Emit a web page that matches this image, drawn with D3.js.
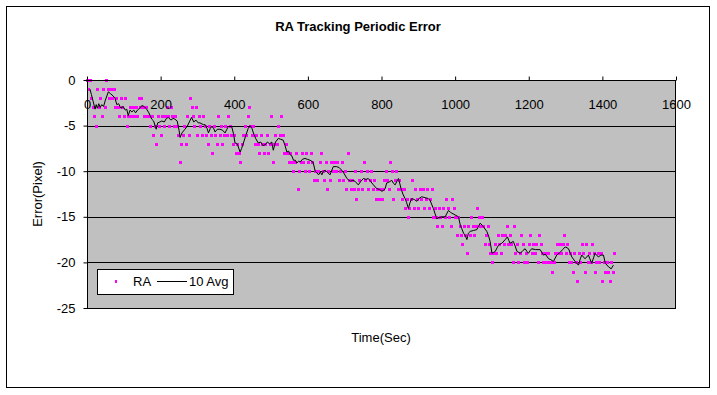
<!DOCTYPE html>
<html>
<head>
<meta charset="utf-8">
<script src="https://cdn.jsdelivr.net/npm/d3@7"></script>
<style>
  body { margin: 0; background: #fff; }
  svg { display: block; font-family: "Liberation Sans", Arial, sans-serif; }
</style>
</head>
<body>
<svg width="717" height="395"></svg>
<script>
// RA error (pixels), one reading every 4 s from t = 0
const raStep = 4;
const raValues = [
  0,-1,0,-2,
  -3,-4,-5,-1,-3,-2,-4,
  -1,-3,0,-1,-2,-1,-2,-1,-3,
  -2,-3,-4,-2,-3,-4,-2,-5,-4,
  -3,-4,-3,-4,-3,-4,-2,-3,-2,
  -3,-4,-3,-4,-4,-5,-4,-6,-5,-7,
  -4,-5,-6,-4,-5,-4,-3,-4,-5,-3,-4,-5,-4,-5,-6,
  -9,-7,-6,-5,-7,-4,-6,-2,
  -3,-4,-5,-3,-6,-4,-5,-6,-4,-5,
  // 324 - 632
  -6,-7,-5,-6,-8,-5,-6,-7,-4,-6,
  -5,-7,-6,-5,-6,-4,-5,-6,-7,-6,
  -8,-7,-8,-9,-7,-6,-5,-6,-4,-3,
  -5,-6,-5,-7,-6,-7,-8,-6,-7,-8,
  -7,-6,-8,-7,-4,-9,-7,-6,-7,-5,
  -6,-4,-6,-8,-7,-8,-9,-8,-9,-10,
  -9,-8,-12,-10,-9,-8,-9,-10,-8,-9,
  -10,-8,-9,-11,-10,-11,-10,-9,
  // 636 - 944
  -8,-10,-11,-9,-12,-10,-11,-9,-10,-9,
  -10,-9,-11,-10,-9,-11,-10,-12,-8,-11,
  -12,-11,-12,-10,-13,-12,-11,-10,-12,-9,
  -11,-10,-12,-11,-10,-12,-11,-13,-12,-13,
  -12,-13,-12,-11,-10,-11,-12,-9,-10,-13,
  -11,-10,-12,-11,-12,-13,-12,-14,-13,-15,
  -14,-13,-11,-14,-12,-13,-14,-12,-13,-12,
  -14,-13,-12,-14,-13,-12,-15,-14,
  // 948 - 1256
  -15,-16,-14,-15,-16,-14,-15,-13,-14,-15,
  -16,-13,-14,-15,-17,-15,-16,-17,-18,-16,
  -17,-19,-16,-17,-15,-16,-17,-16,-14,-15,
  -16,-15,-16,-18,-17,-16,-18,-19,-20,-19,
  -18,-19,-17,-18,-19,-17,-18,-17,-16,-18,
  -17,-18,-20,-16,-19,-18,-20,-19,-17,-18,
  -20,-19,-20,-18,-17,-19,-18,-19,-18,-20,
  -17,-18,-19,-20,-19,-20,-19,-20,
  // 1260 - 1432
  -20,-21,-20,-19,-18,-19,-18,-19,-18,-17,
  -19,-18,-20,-19,-20,-21,-19,-20,-22,-19,
  -20,-18,-19,-21,-18,-20,-19,-20,-18,-19,
  -21,-20,-19,-20,-19,-22,-20,-21,-20,-21,
  -22,-20,-21,-19
];

// 10 point moving average: [time, error]
const avgPoints = [
  [8,-1.0],[12,-1.6],[17,-2.4],[22,-3.2],[25,-2.7],[28,-3.1],[32,-2.6],[36,-3.0],[40,-2.7],[45,-2.9],
  [50,-2.2],[58,-1.3],[64,-1.5],[71,-1.75],[76,-2.0],[81,-2.7],[86,-2.6],[92,-3.1],[98,-2.9],[104,-3.3],
  [108,-3.2],[112,-3.9],[117,-3.3],[122,-3.5],[127,-3.3],[132,-3.6],[137,-3.3],[143,-3.1],[149,-2.8],[155,-2.9],
  [162,-3.2],[168,-3.6],[176,-4.3],[181,-4.5],[188,-5.4],[192,-4.7],[198,-4.6],[203,-4.5],[210,-4.6],[216,-4.2],
  [221,-4.1],[228,-4.4],[234,-4.2],[239,-4.3],[245,-4.5],[250,-5.5],[253,-6.3],[258,-5.8],[262,-5.6],[266,-5.4],
  [272,-5.1],[278,-4.6],[284,-4.1],[290,-4.6],[296,-4.4],[302,-4.7],[307,-4.7],[316,-4.9],[321,-4.9],[326,-5.3],
  [330,-5.8],[335,-5.3],[339,-5.1],[344,-5.3],[348,-5.7],[354,-5.4],[361,-5.4],[368,-5.5],[375,-5.8],[380,-5.4],
  [384,-5.1],[393,-5.1],[398,-5.9],[402,-6.9],[408,-7.0],[416,-7.9],[420,-7.5],[425,-6.9],[432,-6.0],[438,-5.3],
  [443,-5.0],[448,-5.3],[452,-5.8],[458,-6.4],[465,-6.9],[472,-6.8],[478,-7.2],[484,-7.1],[490,-6.8],[496,-7.0],
  [502,-6.8],[506,-7.7],[512,-6.8],[520,-6.4],[526,-6.5],[533,-6.6],[538,-7.2],[543,-7.9],[548,-7.8],[552,-8.2],
  [556,-8.3],[561,-8.8],[566,-8.8],[570,-9.1],[575,-8.9],[579,-9.0],[585,-8.7],[592,-8.6],[599,-8.7],[606,-8.8],
  [614,-9.0],[620,-10.0],[625,-10.2],[629,-10.4],[634,-10.1],[638,-10.4],[642,-10.0],[647,-9.9],[653,-10.1],[660,-10.4],
  [664,-10.0],[669,-9.5],[678,-9.5],[685,-9.6],[692,-9.9],[699,-10.3],[706,-10.8],[715,-11.1],[722,-11.0],[728,-11.1],
  [737,-11.5],[744,-11.1],[751,-10.8],[758,-10.9],[764,-10.8],[770,-11.1],[778,-11.5],[787,-11.9],[794,-12.0],[801,-12.2],
  [806,-12.1],[810,-11.9],[814,-11.3],[820,-11.2],[828,-11.0],[832,-11.3],[837,-11.5],[842,-11.1],[846,-10.8],[850,-11.4],
  [853,-11.9],[858,-12.5],[864,-13.0],[868,-13.4],[873,-14.1],[877,-13.5],[882,-13.0],[889,-13.1],[896,-13.3],[902,-13.0],
  [909,-12.8],[918,-12.9],[927,-13.0],[932,-13.2],[937,-13.7],[941,-14.1],[945,-14.6],[950,-15.2],[957,-15.1],[964,-15.0],
  [973,-15.0],[978,-14.6],[982,-14.3],[987,-14.5],[991,-14.6],[1000,-14.8],[1009,-15.0],[1014,-15.9],[1018,-16.3],[1023,-16.8],
  [1028,-17.1],[1032,-17.5],[1036,-16.8],[1041,-16.6],[1050,-16.5],[1059,-16.4],[1064,-16.0],[1068,-15.7],[1073,-15.9],[1077,-16.1],
  [1086,-16.6],[1091,-17.1],[1095,-17.7],[1100,-19.0],[1105,-18.9],[1109,-18.8],[1114,-18.4],[1118,-18.1],[1127,-17.9],[1136,-17.5],
  [1142,-17.2],[1146,-17.6],[1149,-17.9],[1158,-17.7],[1163,-18.2],[1168,-18.8],[1177,-19.0],[1184,-18.7],[1190,-18.5],[1195,-18.8],
  [1199,-19.0],[1204,-18.7],[1208,-18.5],[1218,-18.6],[1231,-18.6],[1240,-19.2],[1245,-19.1],[1254,-19.6],[1260,-19.7],[1267,-19.9],
  [1276,-19.2],[1285,-18.9],[1292,-18.6],[1299,-18.3],[1304,-18.4],[1308,-18.5],[1313,-19.0],[1317,-19.4],[1326,-19.9],[1335,-20.3],
  [1340,-19.6],[1344,-19.2],[1353,-19.6],[1362,-19.2],[1366,-19.6],[1371,-20.1],[1376,-19.5],[1380,-19.0],[1389,-19.4],[1396,-19.2],
  [1403,-19.2],[1408,-20.1],[1417,-20.5],[1424,-20.7],[1430,-20.3]
];

const xTicks = [0, 200, 400, 600, 800, 1000, 1200, 1400, 1600];
const yTicks = [0, -5, -10, -15, -20, -25];

const svg = d3.select("svg");
const plot = {left: 87, right: 676, top: 80, bottom: 308};

const x = d3.scaleLinear().domain([0, 1600]).range([plot.left, plot.right]);
const y = d3.scaleLinear().domain([-25, 0]).range([plot.bottom, plot.top]);

// outer frame
svg.append("rect")
    .attr("x", 6.5).attr("y", 6.5)
    .attr("width", 703).attr("height", 381)
    .attr("fill", "#fff").attr("stroke", "#000");

svg.append("text")
    .attr("x", 358).attr("y", 31)
    .attr("text-anchor", "middle")
    .attr("font-size", 13).attr("font-weight", "bold")
    .text("RA Tracking Periodic Error");

// plot area
svg.append("rect")
    .attr("x", plot.left).attr("y", plot.top)
    .attr("width", plot.right - plot.left).attr("height", plot.bottom - plot.top)
    .attr("fill", "#c0c0c0");

svg.append("g")
  .selectAll("line")
  .data(yTicks.filter(d => d !== 0 && d !== -25))
  .enter().append("line")
    .attr("x1", plot.left).attr("x2", plot.right)
    .attr("y1", d => Math.round(y(d)) + 0.5).attr("y2", d => Math.round(y(d)) + 0.5)
    .attr("stroke", "#000");

const ra = raValues.map((v, i) => ({t: i * raStep, v: v}));

svg.append("g")
    .attr("fill", "#ff00ff")
  .selectAll("rect")
  .data(ra)
  .enter().append("rect")
    .attr("x", d => Math.round(x(d.t)) - 1)
    .attr("y", d => Math.round(y(d.v)) - 1)
    .attr("width", 3).attr("height", 3);

svg.append("path")
    .datum(avgPoints)
    .attr("fill", "none")
    .attr("stroke", "#000")
    .attr("stroke-width", 1)
    .attr("d", d3.line().x(d => x(d[0])).y(d => y(d[1])));

svg.append("rect")
    .attr("x", plot.left + 0.5).attr("y", plot.top + 0.5)
    .attr("width", plot.right - plot.left - 1).attr("height", plot.bottom - plot.top)
    .attr("fill", "none").attr("stroke", "#000");

// x axis sits on y = 0 (top), ticks point up, labels below the line
const xAxis = svg.append("g")
    .attr("transform", "translate(0," + (plot.top + 0.5) + ")")
    .call(d3.axisBottom(x).tickValues(xTicks).tickSizeInner(-4).tickSizeOuter(0).tickPadding(19).tickFormat(d => d));
xAxis.select(".domain").remove();
xAxis.selectAll("text").attr("font-size", 13).attr("fill", "#000").attr("font-family", "Liberation Sans, Arial, sans-serif");

const yAxis = svg.append("g")
    .attr("transform", "translate(" + (plot.left + 0.5) + ",0)")
    .call(d3.axisLeft(y).tickValues(yTicks).tickSize(4).tickPadding(8).tickFormat(d => String(d)));
yAxis.select(".domain").remove();
yAxis.selectAll("text").attr("font-size", 13).attr("fill", "#000").attr("font-family", "Liberation Sans, Arial, sans-serif");

svg.append("text")
    .attr("x", 381).attr("y", 342)
    .attr("text-anchor", "middle").attr("font-size", 13)
    .text("Time(Sec)");

svg.append("text")
    .attr("transform", "translate(42,194) rotate(-90)")
    .attr("text-anchor", "middle").attr("font-size", 13)
    .text("Error(Pixel)");

// legend
const legend = svg.append("g");
legend.append("rect")
    .attr("x", 97.5).attr("y", 269.5).attr("width", 136).attr("height", 25)
    .attr("fill", "#fff").attr("stroke", "#000");
legend.append("rect")
    .attr("x", 115).attr("y", 280).attr("width", 2).attr("height", 3)
    .attr("fill", "#ff00ff");
legend.append("text")
    .attr("x", 133).attr("y", 286).attr("font-size", 13).text("RA");
legend.append("line")
    .attr("x1", 157).attr("x2", 187).attr("y1", 281.5).attr("y2", 281.5)
    .attr("stroke", "#000");
legend.append("text")
    .attr("x", 189).attr("y", 286).attr("font-size", 13).text("10 Avg");
</script>
</body>
</html>
